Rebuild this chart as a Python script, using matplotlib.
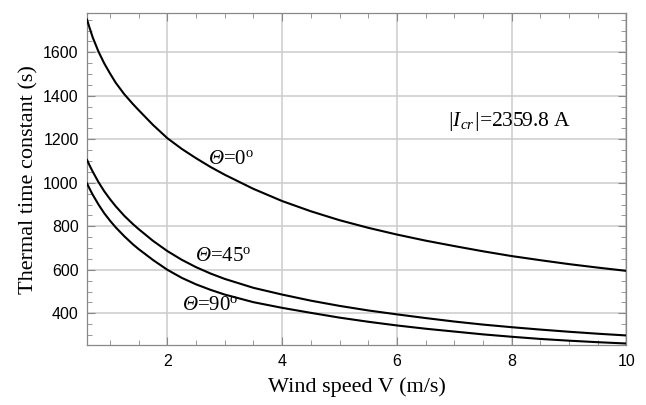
import matplotlib
matplotlib.use("Agg")
import matplotlib.pyplot as plt
from matplotlib.ticker import MultipleLocator

# values
wind = [0.6, 0.65, 0.7, 0.8, 0.9, 1.0, 1.1, 1.25, 1.4, 1.5, 1.75, 2.0, 2.25, 2.5, 2.75, 3.0,
        3.5, 4.0, 4.5, 5.0, 5.5, 6.0, 6.5, 7.0, 7.5, 8.0, 8.5, 9.0, 9.5, 10.0]
tau_0 = [1750, 1708, 1668, 1603, 1549, 1503, 1460, 1407, 1362, 1334, 1266, 1205, 1156, 1113, 1073, 1037,
         972, 916, 869, 828, 793, 762, 734, 709, 685, 663, 644, 626, 610, 595]
tau_45 = [1105, 1077, 1051, 1003, 961, 925, 892, 848, 810, 787, 733, 686, 646, 612, 583, 558,
          517, 486, 458, 434, 413, 395, 378, 362, 348, 336, 325, 315, 306, 298]
tau_90 = [997, 970, 945, 900, 860, 826, 795, 754, 717, 695, 645, 600, 563, 533, 508, 486,
          451, 425, 402, 380, 361, 344, 329, 316, 303, 292, 282, 274, 267, 261]

x_ticks = [2, 4, 6, 8, 10]
y_ticks = [400, 600, 800, 1000, 1200, 1400, 1600]

plt.rcParams["font.family"] = ["Liberation Serif", "DejaVu Serif"]
plt.rcParams["mathtext.fontset"] = "custom"
plt.rcParams["mathtext.rm"] = "Liberation Serif"
plt.rcParams["mathtext.it"] = "Liberation Serif:italic"
plt.rcParams["mathtext.sf"] = "Liberation Serif:italic"

fig = plt.figure(figsize=(6.46, 4.05), dpi=100)
ax = fig.add_axes([0.1347, 0.147, 0.8351, 0.820])

for y in (tau_0, tau_45, tau_90):
    ax.plot(wind, y, color="black", lw=1.5, zorder=3)

ax.set_xlim(0.6, 10)
ax.set_ylim(252, 1779)
ax.set_xticks(x_ticks)
ax.set_yticks(y_ticks)
ax.xaxis.set_minor_locator(MultipleLocator(0.5))
ax.yaxis.set_minor_locator(MultipleLocator(50))
ax.grid(True, which="major", color="#cccccc", lw=1.1, zorder=0)

for lab in ax.get_xticklabels() + ax.get_yticklabels():
    lab.set_family("Liberation Sans")
    lab.set_fontsize(11.5)
ax.tick_params(which="both", direction="in", top=True, right=True, color="#888888")
ax.tick_params(which="major", length=6, width=0.8, pad=6)
ax.tick_params(which="minor", length=3.5, width=0.6)
for s in ax.spines.values():
    s.set_color("#888888")
    s.set_linewidth(0.9)

ax.set_xlabel("Wind speed V (m/s)", fontsize=16, labelpad=6)
ax.set_ylabel("Thermal time constant (s)", fontsize=16, labelpad=3)

ax.text(3.11, 1105, r"$\mathsf{Θ}$=0$^{\mathrm{o}}$", fontsize=15, ha="center", va="center")
ax.text(2.97, 659, r"$\mathsf{Θ}$=45$^{\mathrm{o}}$", fontsize=15, ha="center", va="center")
ax.text(2.75, 438, r"$\mathsf{Θ}$=90$^{\mathrm{o}}$", fontsize=15, ha="center", va="center")
ax.text(7.95, 1280, r"$\mathsf{|}I_{cr}\mathsf{|}$=2359.8 A", fontsize=15.5, ha="center", va="center")

fig.savefig("out.png", dpi=100)
